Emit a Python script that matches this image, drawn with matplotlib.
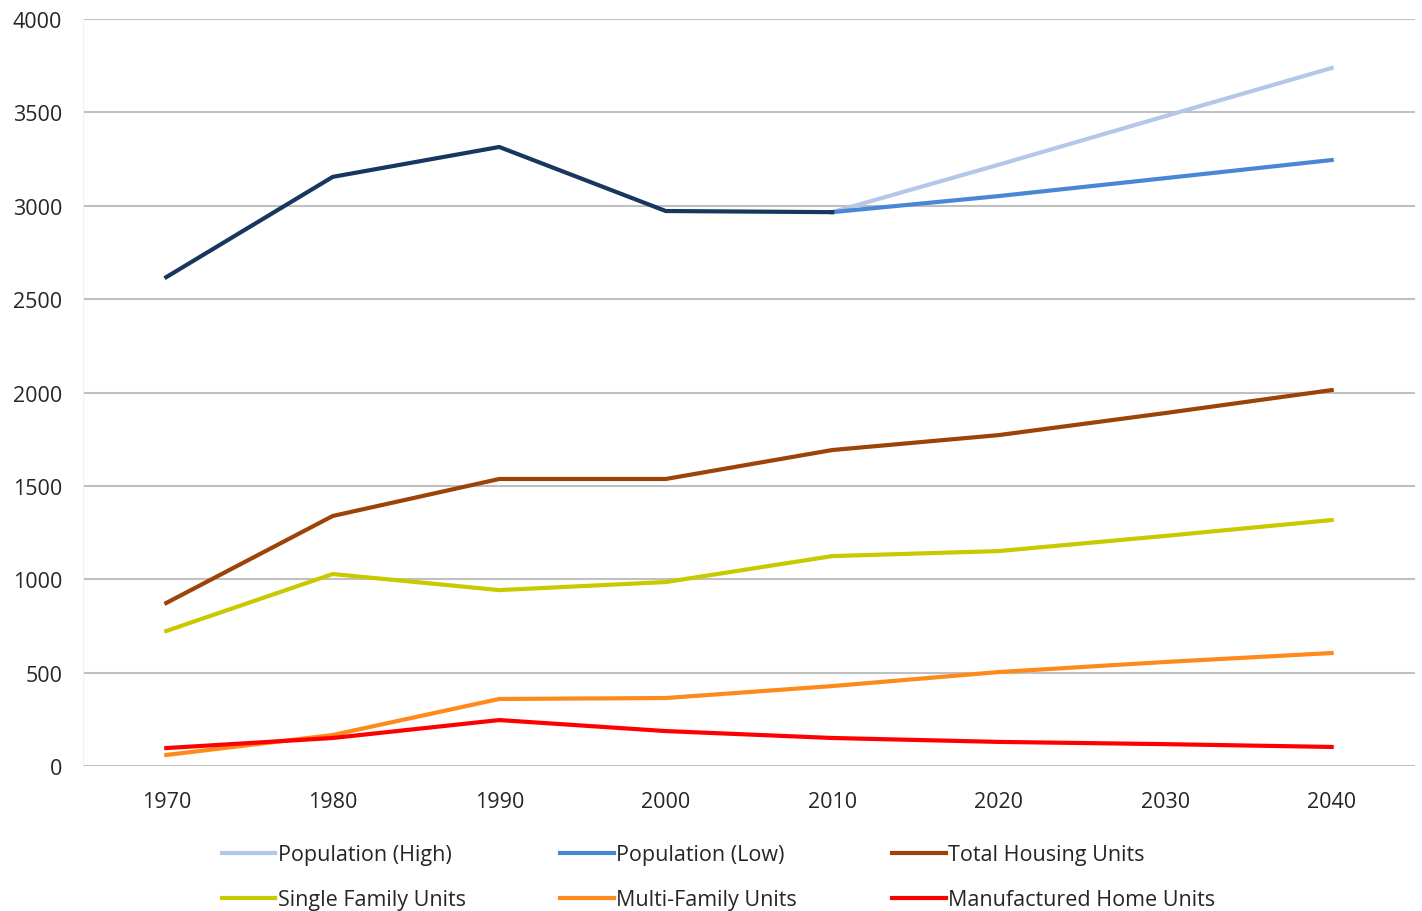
import matplotlib.pyplot as plt

plt.rcParams['font.family'] = ['Open Sans', 'DejaVu Sans']

years = ["1970", "1980", "1990", "2000", "2010", "2020", "2030", "2040"]

# historical population (1970-2010), then two projections from 2010
population_hist = [2618, 3155, 3315, 2972, 2966]
population_high = [2966, 3220, 3480, 3738]
population_low = [2966, 3052, 3148, 3245]

total_housing = [873, 1339, 1537, 1537, 1692, 1772, 1890, 2013]
single_family = [723, 1028, 942, 985, 1124, 1151, 1232, 1317]
multi_family = [59, 166, 359, 364, 428, 503, 557, 605]
manufactured = [96, 150, 246, 187, 150, 129, 117, 102]

x = list(range(len(years)))
x_hist = x[:5]
x_proj = x[4:]

fig = plt.figure(figsize=(14.22, 9.12), dpi=100)
ax = fig.add_axes([0.0584, 0.159, 0.9366, 0.819])

lw = 3
h_high, = ax.plot(x_proj, population_high, color="#b4c7e7", lw=lw, label="Population (High)")
h_low, = ax.plot(x_proj, population_low, color="#4a86d6", lw=lw, label="Population (Low)")
ax.plot(x_hist, population_hist, color="#17375e", lw=lw)
h_tot, = ax.plot(x, total_housing, color="#9c4308", lw=lw, label="Total Housing Units")
h_sf, = ax.plot(x, single_family, color="#c9c900", lw=lw, label="Single Family Units")
h_mf, = ax.plot(x, multi_family, color="#ff8a1c", lw=lw, label="Multi-Family Units")
h_mh, = ax.plot(x, manufactured, color="#ff0000", lw=lw, label="Manufactured Home Units")

ax.set_xlim(-0.5, 7.5)
ax.set_ylim(0, 4000)
ax.set_yticks(range(0, 4001, 500))
ax.set_xticks(x)
ax.set_xticklabels(years)
ax.yaxis.grid(True, color="#c0c0c0", lw=1.5)
ax.set_axisbelow(True)
for s in ["top", "right", "bottom"]:
    ax.spines[s].set_visible(False)
ax.spines["left"].set_color("#f0f0f0")
ax.tick_params(length=0, labelsize=15.5, colors="#262626")
ax.tick_params(axis="x", pad=18)
ax.tick_params(axis="y", pad=15)

# column-major order so the rows read left to right
handles = [h_high, h_sf, h_low, h_mf, h_tot, h_mh]
fig.legend(handles=handles, labels=[h.get_label() for h in handles],
           ncol=3, loc="upper left", bbox_to_anchor=(0.1498, 0.0825),
           frameon=False, fontsize=15.5, handlelength=2.5, handletextpad=0.1,
           columnspacing=4.4, labelspacing=1.1, borderaxespad=0,
           labelcolor="#262626")

fig.savefig("out.png", dpi=100)
